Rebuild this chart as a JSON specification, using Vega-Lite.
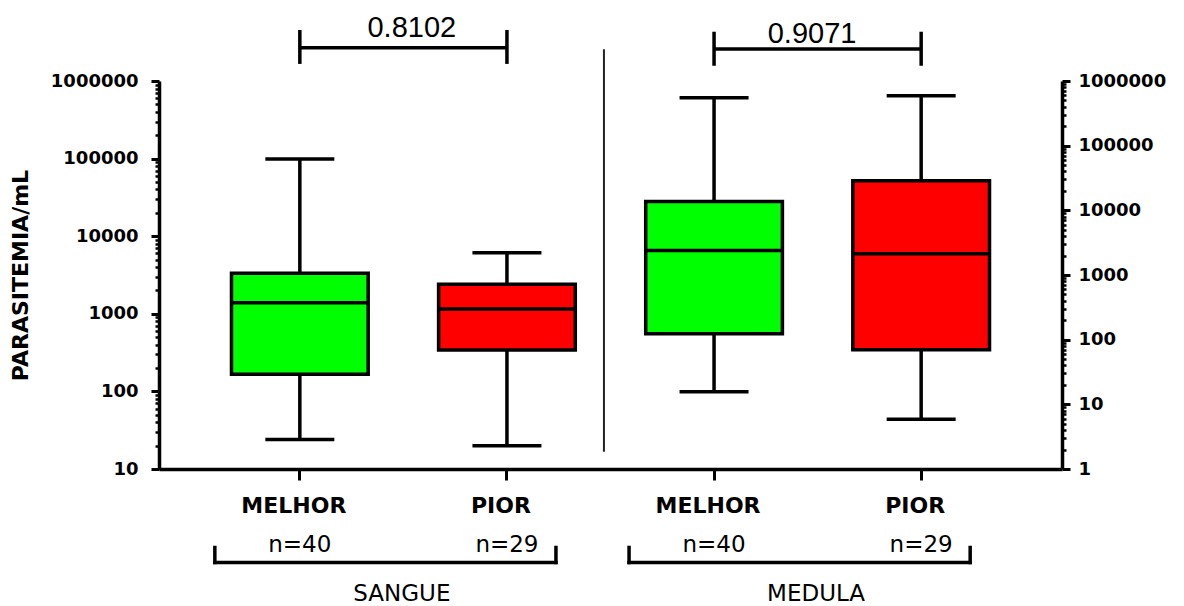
{
  "$schema": "https://vega.github.io/schema/vega-lite/v6.json",
  "autosize": {"type": "none"},
  "width": 903,
  "height": 388,
  "padding": {"left": 159, "top": 81, "right": 122, "bottom": 137},
  "background": "white",
  "datasets": {
    "stats": [
      {"cat": "SANGUE MELHOR", "tecido": "SANGUE", "grupo": "MELHOR", "n_label": "n=40", "min": 24, "q1": 166, "med": 1390, "q3": 3320, "max": 99000},
      {"cat": "SANGUE PIOR", "tecido": "SANGUE", "grupo": "PIOR", "n_label": "n=29", "min": 20, "q1": 342, "med": 1153, "q3": 2400, "max": 6110},
      {"cat": "MEDULA MELHOR", "tecido": "MEDULA", "grupo": "MELHOR", "n_label": "n=40", "min": 15.6, "q1": 124, "med": 2390, "q3": 13700, "max": 552000},
      {"cat": "MEDULA PIOR", "tecido": "MEDULA", "grupo": "PIOR", "n_label": "n=29", "min": 5.9, "q1": 70, "med": 2140, "q3": 28700, "max": 593000}
    ],
    "pares": [
      {"tecido": "SANGUE", "de": "SANGUE MELHOR", "ate": "SANGUE PIOR", "p": "0.8102"},
      {"tecido": "MEDULA", "de": "MEDULA MELHOR", "ate": "MEDULA PIOR", "p": "0.9071"}
    ]
  },
  "layer": [
    {
      "layer": [
        {
          "data": {"name": "stats"},
          "transform": [{"filter": "datum.tecido === 'SANGUE'"}],
          "mark": {"type": "bar", "stroke": "#000", "strokeWidth": 3.5},
          "encoding": {
            "x": {"field": "cat", "type": "nominal",
                  "scale": {"type": "band", "domain": ["SANGUE MELHOR", "SANGUE PIOR", "MEDULA MELHOR", "MEDULA PIOR"], "paddingInner": 0.34, "paddingOuter": 0.35},
                  "axis": {"title": null, "labelExpr": "split(datum.label, ' ')[1]", "labelAngle": 0, "labelFontSize": 22, "tickSize": 11, "labelPadding": 15, "labelOffset": -6}},
            "y": {"field": "q1", "type": "quantitative",
                  "scale": {"type": "log", "domain": [10, 1000000], "nice": false},
                  "axis": {"orient": "left", "title": "PARASITEMIA/mL", "titleFontSize": 22, "titlePadding": 18,
                           "values": [10, 100, 1000, 10000, 100000, 1000000], "format": "d",
                           "labelOverlap": false, "labelFontSize": 18, "labelPadding": 13, "tickSize": 8}},
            "y2": {"field": "q3"},
            "fill": {"field": "grupo", "type": "nominal", "scale": {"domain": ["MELHOR", "PIOR"], "range": ["#00FF00", "#FF0000"]}, "legend": null}
          }
        },
        {
          "data": {"name": "stats"},
          "transform": [{"filter": "datum.tecido === 'SANGUE'"}],
          "mark": {"type": "rule", "color": "#000", "strokeWidth": 3.5},
          "encoding": {
            "x": {"field": "cat", "type": "nominal"},
            "y": {"field": "min", "type": "quantitative", "scale": {"type": "log", "domain": [10, 1000000], "nice": false}},
            "y2": {"field": "q1"}
          }
        },
        {
          "data": {"name": "stats"},
          "transform": [{"filter": "datum.tecido === 'SANGUE'"}],
          "mark": {"type": "rule", "color": "#000", "strokeWidth": 3.5},
          "encoding": {
            "x": {"field": "cat", "type": "nominal"},
            "y": {"field": "q3", "type": "quantitative", "scale": {"type": "log", "domain": [10, 1000000], "nice": false}},
            "y2": {"field": "max"}
          }
        },
        {
          "data": {"name": "stats"},
          "transform": [{"filter": "datum.tecido === 'SANGUE'"}],
          "mark": {"type": "tick", "orient": "horizontal", "color": "#000", "size": 69, "thickness": 3.5, "opacity": 1},
          "encoding": {
            "x": {"field": "cat", "type": "nominal"},
            "y": {"field": "min", "type": "quantitative", "scale": {"type": "log", "domain": [10, 1000000], "nice": false}}
          }
        },
        {
          "data": {"name": "stats"},
          "transform": [{"filter": "datum.tecido === 'SANGUE'"}],
          "mark": {"type": "tick", "orient": "horizontal", "color": "#000", "size": 69, "thickness": 3.5, "opacity": 1},
          "encoding": {
            "x": {"field": "cat", "type": "nominal"},
            "y": {"field": "max", "type": "quantitative", "scale": {"type": "log", "domain": [10, 1000000], "nice": false}}
          }
        },
        {
          "data": {"name": "stats"},
          "transform": [{"filter": "datum.tecido === 'SANGUE'"}],
          "mark": {"type": "tick", "orient": "horizontal", "color": "#000", "size": 137, "thickness": 3.5, "opacity": 1},
          "encoding": {
            "x": {"field": "cat", "type": "nominal"},
            "y": {"field": "med", "type": "quantitative", "scale": {"type": "log", "domain": [10, 1000000], "nice": false}}
          }
        },
        {
          "data": {"name": "stats"},
          "mark": {"type": "text", "font": "DejaVu Sans", "fontSize": 23, "color": "#000", "align": "center", "baseline": "middle"},
          "encoding": {
            "x": {"field": "cat", "type": "nominal"},
            "y": {"datum": 1.06, "type": "quantitative", "scale": {"type": "log", "domain": [10, 1000000], "nice": false}},
            "text": {"field": "n_label"}
          }
        },
        {
          "data": {"name": "pares"},
          "mark": {"type": "rule", "color": "#000", "strokeWidth": 3.5, "strokeCap": "square", "xOffset": -85, "x2Offset": 49},
          "encoding": {
            "x": {"field": "de", "type": "nominal"},
            "x2": {"field": "ate"},
            "y": {"datum": 0.624, "type": "quantitative", "scale": {"type": "log", "domain": [10, 1000000], "nice": false}}
          }
        },
        {
          "data": {"name": "pares"},
          "mark": {"type": "rule", "color": "#000", "strokeWidth": 3.5, "strokeCap": "square", "xOffset": -85},
          "encoding": {
            "x": {"field": "de", "type": "nominal"},
            "y": {"datum": 0.624, "type": "quantitative", "scale": {"type": "log", "domain": [10, 1000000], "nice": false}},
            "y2": {"datum": 0.974}
          }
        },
        {
          "data": {"name": "pares"},
          "mark": {"type": "rule", "color": "#000", "strokeWidth": 3.5, "strokeCap": "square", "xOffset": 49},
          "encoding": {
            "x": {"field": "ate", "type": "nominal"},
            "y": {"datum": 0.624, "type": "quantitative", "scale": {"type": "log", "domain": [10, 1000000], "nice": false}},
            "y2": {"datum": 0.974}
          }
        },
        {
          "data": {"name": "pares"},
          "mark": {"type": "text", "font": "DejaVu Sans", "fontSize": 23, "color": "#000", "align": "center", "baseline": "middle", "xOffset": 102},
          "encoding": {
            "x": {"field": "de", "type": "nominal"},
            "y": {"datum": 0.245, "type": "quantitative", "scale": {"type": "log", "domain": [10, 1000000], "nice": false}},
            "text": {"field": "tecido"}
          }
        },
        {
          "data": {"name": "pares"},
          "transform": [{"filter": "datum.tecido === 'SANGUE'"}],
          "mark": {"type": "rule", "color": "#222", "strokeWidth": 2, "xOffset": 97},
          "encoding": {
            "x": {"field": "ate", "type": "nominal"},
            "y": {"datum": 16.7, "type": "quantitative", "scale": {"type": "log", "domain": [10, 1000000], "nice": false}},
            "y2": {"datum": 2560000}
          }
        },
        {
          "data": {"name": "pares"},
          "transform": [{"filter": "datum.tecido === 'SANGUE'"}],
          "mark": {"type": "rule", "color": "#000", "strokeWidth": 3.5},
          "encoding": {
            "x": {"field": "de", "type": "nominal"},
            "x2": {"field": "ate"},
            "y": {"datum": 2680000, "type": "quantitative", "scale": {"type": "log", "domain": [10, 1000000], "nice": false}}
          }
        },
        {
          "data": {"name": "pares"},
          "transform": [{"filter": "datum.tecido === 'SANGUE'"}],
          "mark": {"type": "rule", "color": "#000", "strokeWidth": 3.5},
          "encoding": {
            "x": {"field": "de", "type": "nominal"},
            "y": {"datum": 1660000, "type": "quantitative", "scale": {"type": "log", "domain": [10, 1000000], "nice": false}},
            "y2": {"datum": 4540000}
          }
        },
        {
          "data": {"name": "pares"},
          "transform": [{"filter": "datum.tecido === 'SANGUE'"}],
          "mark": {"type": "rule", "color": "#000", "strokeWidth": 3.5},
          "encoding": {
            "x": {"field": "ate", "type": "nominal"},
            "y": {"datum": 1660000, "type": "quantitative", "scale": {"type": "log", "domain": [10, 1000000], "nice": false}},
            "y2": {"datum": 4540000}
          }
        },
        {
          "data": {"name": "pares"},
          "transform": [{"filter": "datum.tecido === 'SANGUE'"}],
          "mark": {"type": "text", "font": "Liberation Sans", "fontSize": 29, "color": "#000", "align": "center", "baseline": "alphabetic", "xOffset": 112},
          "encoding": {
            "x": {"field": "de", "type": "nominal"},
            "y": {"datum": 3650000, "type": "quantitative", "scale": {"type": "log", "domain": [10, 1000000], "nice": false}},
            "text": {"field": "p"}
          }
        }
      ]
    },
    {
      "layer": [
        {
          "data": {"name": "stats"},
          "transform": [{"filter": "datum.tecido === 'MEDULA'"}],
          "mark": {"type": "bar", "stroke": "#000", "strokeWidth": 3.5},
          "encoding": {
            "x": {"field": "cat", "type": "nominal"},
            "y": {"field": "q1", "type": "quantitative",
                  "scale": {"type": "log", "domain": [1, 1000000], "nice": false},
                  "axis": {"orient": "right", "title": null,
                           "values": [1, 10, 100, 1000, 10000, 100000, 1000000], "format": "d",
                           "labelOverlap": false, "labelFontSize": 18, "labelPadding": 8, "tickSize": 8}},
            "y2": {"field": "q3"},
            "fill": {"field": "grupo", "type": "nominal", "scale": {"domain": ["MELHOR", "PIOR"], "range": ["#00FF00", "#FF0000"]}, "legend": null}
          }
        },
        {
          "data": {"name": "stats"},
          "transform": [{"filter": "datum.tecido === 'MEDULA'"}],
          "mark": {"type": "rule", "color": "#000", "strokeWidth": 3.5},
          "encoding": {
            "x": {"field": "cat", "type": "nominal"},
            "y": {"field": "min", "type": "quantitative", "scale": {"type": "log", "domain": [1, 1000000], "nice": false}},
            "y2": {"field": "q1"}
          }
        },
        {
          "data": {"name": "stats"},
          "transform": [{"filter": "datum.tecido === 'MEDULA'"}],
          "mark": {"type": "rule", "color": "#000", "strokeWidth": 3.5},
          "encoding": {
            "x": {"field": "cat", "type": "nominal"},
            "y": {"field": "q3", "type": "quantitative", "scale": {"type": "log", "domain": [1, 1000000], "nice": false}},
            "y2": {"field": "max"}
          }
        },
        {
          "data": {"name": "stats"},
          "transform": [{"filter": "datum.tecido === 'MEDULA'"}],
          "mark": {"type": "tick", "orient": "horizontal", "color": "#000", "size": 69, "thickness": 3.5, "opacity": 1},
          "encoding": {
            "x": {"field": "cat", "type": "nominal"},
            "y": {"field": "min", "type": "quantitative", "scale": {"type": "log", "domain": [1, 1000000], "nice": false}}
          }
        },
        {
          "data": {"name": "stats"},
          "transform": [{"filter": "datum.tecido === 'MEDULA'"}],
          "mark": {"type": "tick", "orient": "horizontal", "color": "#000", "size": 69, "thickness": 3.5, "opacity": 1},
          "encoding": {
            "x": {"field": "cat", "type": "nominal"},
            "y": {"field": "max", "type": "quantitative", "scale": {"type": "log", "domain": [1, 1000000], "nice": false}}
          }
        },
        {
          "data": {"name": "stats"},
          "transform": [{"filter": "datum.tecido === 'MEDULA'"}],
          "mark": {"type": "tick", "orient": "horizontal", "color": "#000", "size": 137, "thickness": 3.5, "opacity": 1},
          "encoding": {
            "x": {"field": "cat", "type": "nominal"},
            "y": {"field": "med", "type": "quantitative", "scale": {"type": "log", "domain": [1, 1000000], "nice": false}}
          }
        },
        {
          "data": {"name": "pares"},
          "transform": [{"filter": "datum.tecido === 'MEDULA'"}],
          "mark": {"type": "rule", "color": "#000", "strokeWidth": 3.5},
          "encoding": {
            "x": {"field": "de", "type": "nominal"},
            "x2": {"field": "ate"},
            "y": {"datum": 3130000, "type": "quantitative", "scale": {"type": "log", "domain": [1, 1000000], "nice": false}}
          }
        },
        {
          "data": {"name": "pares"},
          "transform": [{"filter": "datum.tecido === 'MEDULA'"}],
          "mark": {"type": "rule", "color": "#000", "strokeWidth": 3.5},
          "encoding": {
            "x": {"field": "de", "type": "nominal"},
            "y": {"datum": 1720000, "type": "quantitative", "scale": {"type": "log", "domain": [1, 1000000], "nice": false}},
            "y2": {"datum": 5780000}
          }
        },
        {
          "data": {"name": "pares"},
          "transform": [{"filter": "datum.tecido === 'MEDULA'"}],
          "mark": {"type": "rule", "color": "#000", "strokeWidth": 3.5},
          "encoding": {
            "x": {"field": "ate", "type": "nominal"},
            "y": {"datum": 1720000, "type": "quantitative", "scale": {"type": "log", "domain": [1, 1000000], "nice": false}},
            "y2": {"datum": 5780000}
          }
        },
        {
          "data": {"name": "pares"},
          "transform": [{"filter": "datum.tecido === 'MEDULA'"}],
          "mark": {"type": "text", "font": "Liberation Sans", "fontSize": 29, "color": "#000", "align": "center", "baseline": "alphabetic", "xOffset": 98},
          "encoding": {
            "x": {"field": "de", "type": "nominal"},
            "y": {"datum": 3910000, "type": "quantitative", "scale": {"type": "log", "domain": [1, 1000000], "nice": false}},
            "text": {"field": "p"}
          }
        }
      ]
    },
    {
      "data": {"name": "stats"},
      "mark": {"type": "point", "opacity": 0},
      "encoding": {
        "x": {"field": "cat", "type": "nominal"},
        "y": {"field": "med", "type": "quantitative",
              "scale": {"type": "log", "domain": [10, 1000000], "nice": false},
              "axis": {"orient": "left", "title": null, "labels": false, "domain": false, "tickSize": 4, "tickWidth": 2.5,
                       "values": [20,30,40,50,60,70,80,90,200,300,400,500,600,700,800,900,2000,3000,4000,5000,6000,7000,8000,9000,20000,30000,40000,50000,60000,70000,80000,90000,200000,300000,400000,500000,600000,700000,800000,900000]}}
      }
    },
    {
      "data": {"name": "stats"},
      "mark": {"type": "point", "opacity": 0},
      "encoding": {
        "x": {"field": "cat", "type": "nominal"},
        "y": {"field": "med", "type": "quantitative",
              "scale": {"type": "log", "domain": [1, 1000000], "nice": false},
              "axis": {"orient": "right", "title": null, "labels": false, "domain": false, "tickSize": 4, "tickWidth": 2.5,
                       "values": [2,3,4,5,6,7,8,9,20,30,40,50,60,70,80,90,200,300,400,500,600,700,800,900,2000,3000,4000,5000,6000,7000,8000,9000,20000,30000,40000,50000,60000,70000,80000,90000,200000,300000,400000,500000,600000,700000,800000,900000]}}
      }
    }
  ],
  "resolve": {"scale": {"y": "independent"}, "axis": {"y": "independent"}},
  "config": {
    "view": {"stroke": null},
    "axis": {
      "domainColor": "#000", "domainWidth": 3.5, "tickColor": "#000", "tickWidth": 3,
      "labelColor": "#000", "labelFont": "DejaVu Sans", "labelFontWeight": "bold",
      "titleColor": "#000", "titleFont": "DejaVu Sans", "titleFontWeight": "bold", "grid": false
    }
  }
}
